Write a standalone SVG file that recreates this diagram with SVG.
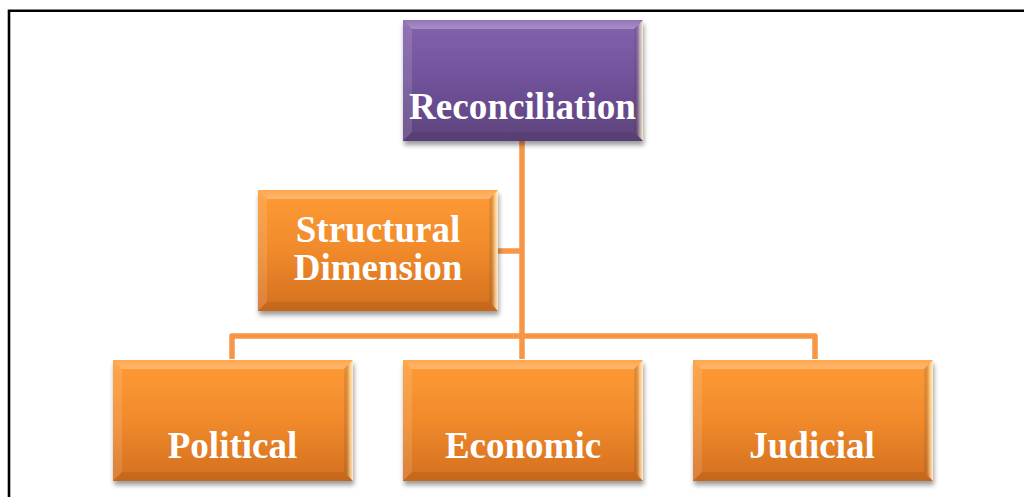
<svg xmlns="http://www.w3.org/2000/svg" xmlns:xlink="http://www.w3.org/1999/xlink" width="1024" height="497" viewBox="0 0 1024 497">
  <style>
    .frame { fill: none; stroke: #000; stroke-width: 2.6; }
    .link { fill: none; stroke: #F79646; stroke-width: 5.5; stroke-linejoin: round; }
    .label { font-family: "Liberation Serif", "Times New Roman", serif; font-weight: bold; font-size: 37px; fill: #fff; text-anchor: middle; }
  </style>
  <defs>
    <linearGradient id="orangeFill" x1="0" y1="0" x2="0" y2="1">
      <stop offset="0" stop-color="#FF9B35"/>
      <stop offset="0.5" stop-color="#F08A2C"/>
      <stop offset="1" stop-color="#D46F1F"/>
    </linearGradient>
    <linearGradient id="purpleFill" x1="0" y1="0" x2="0" y2="1">
      <stop offset="0" stop-color="#8462AE"/>
      <stop offset="0.5" stop-color="#70529A"/>
      <stop offset="1" stop-color="#5E437C"/>
    </linearGradient>
    <linearGradient id="topEdge" x1="0" y1="0" x2="0" y2="1">
      <stop offset="0" stop-color="#fff" stop-opacity="0.12"/>
      <stop offset="1" stop-color="#fff" stop-opacity="0.3"/>
    </linearGradient>
    <linearGradient id="rightEdge" x1="0" y1="0" x2="1" y2="0">
      <stop offset="0" stop-color="#000" stop-opacity="0.05"/>
      <stop offset="0.6" stop-color="#FFF3C8" stop-opacity="0.45"/>
      <stop offset="1" stop-color="#FFF6D8" stop-opacity="0.95"/>
    </linearGradient>
    <filter id="shadow" x="-10%" y="-10%" width="120%" height="130%">
      <feGaussianBlur in="SourceAlpha" stdDeviation="2.5"/>
      <feOffset dx="1" dy="4" result="blur"/>
      <feComponentTransfer><feFuncA type="linear" slope="0.4"/></feComponentTransfer>
      <feMerge><feMergeNode/><feMergeNode in="SourceGraphic"/></feMerge>
    </filter>
    <!-- bevelled edges shared by every box -->
    <g id="bevel">
      <polygon points="0,0 240,0 231,9 9,9" fill="url(#topEdge)"/>
      <polygon points="0,0 9,9 9,112 0,121" fill="#fff" fill-opacity="0.12"/>
      <polygon points="240,0 240,121 231,112 231,9" fill="url(#rightEdge)"/>
      <polygon points="0,121 240,121 231,112 9,112" fill="#000" fill-opacity="0.07"/>
    </g>
    <g id="orangeBox">
      <rect width="240" height="121" fill="url(#orangeFill)"/>
      <use xlink:href="#bevel"/>
    </g>
    <g id="purpleBox">
      <rect width="240" height="121" fill="url(#purpleFill)"/>
      <use xlink:href="#bevel"/>
    </g>
  </defs>

  <rect width="1024" height="497" fill="#fff"/>
  <path class="frame" d="M9,497 V10.8 H1024"/>

  <g id="connectors">
    <path class="link" d="M522,141 V359"/>
    <path class="link" d="M498,251 H522"/>
    <path class="link" d="M232,359 V336 H815 V359"/>
  </g>

  <g id="reconciliation">
    <use xlink:href="#purpleBox" x="403" y="20" filter="url(#shadow)"/>
    <text class="label" x="522.5" y="119" font-size="34" textLength="227" lengthAdjust="spacingAndGlyphs">Reconciliation</text>
  </g>

  <g id="structural">
    <use xlink:href="#orangeBox" x="258" y="190" filter="url(#shadow)"/>
    <text class="label" x="378" y="242">Structural</text>
    <text class="label" x="378" y="280">Dimension</text>
  </g>

  <g id="political">
    <use xlink:href="#orangeBox" x="113" y="360" filter="url(#shadow)"/>
    <text class="label" x="232.5" y="458">Political</text>
  </g>

  <g id="economic">
    <use xlink:href="#orangeBox" x="403" y="360" filter="url(#shadow)"/>
    <text class="label" x="523" y="458">Economic</text>
  </g>

  <g id="judicial">
    <use xlink:href="#orangeBox" x="693" y="360" filter="url(#shadow)"/>
    <text class="label" x="812" y="458">Judicial</text>
  </g>
</svg>
